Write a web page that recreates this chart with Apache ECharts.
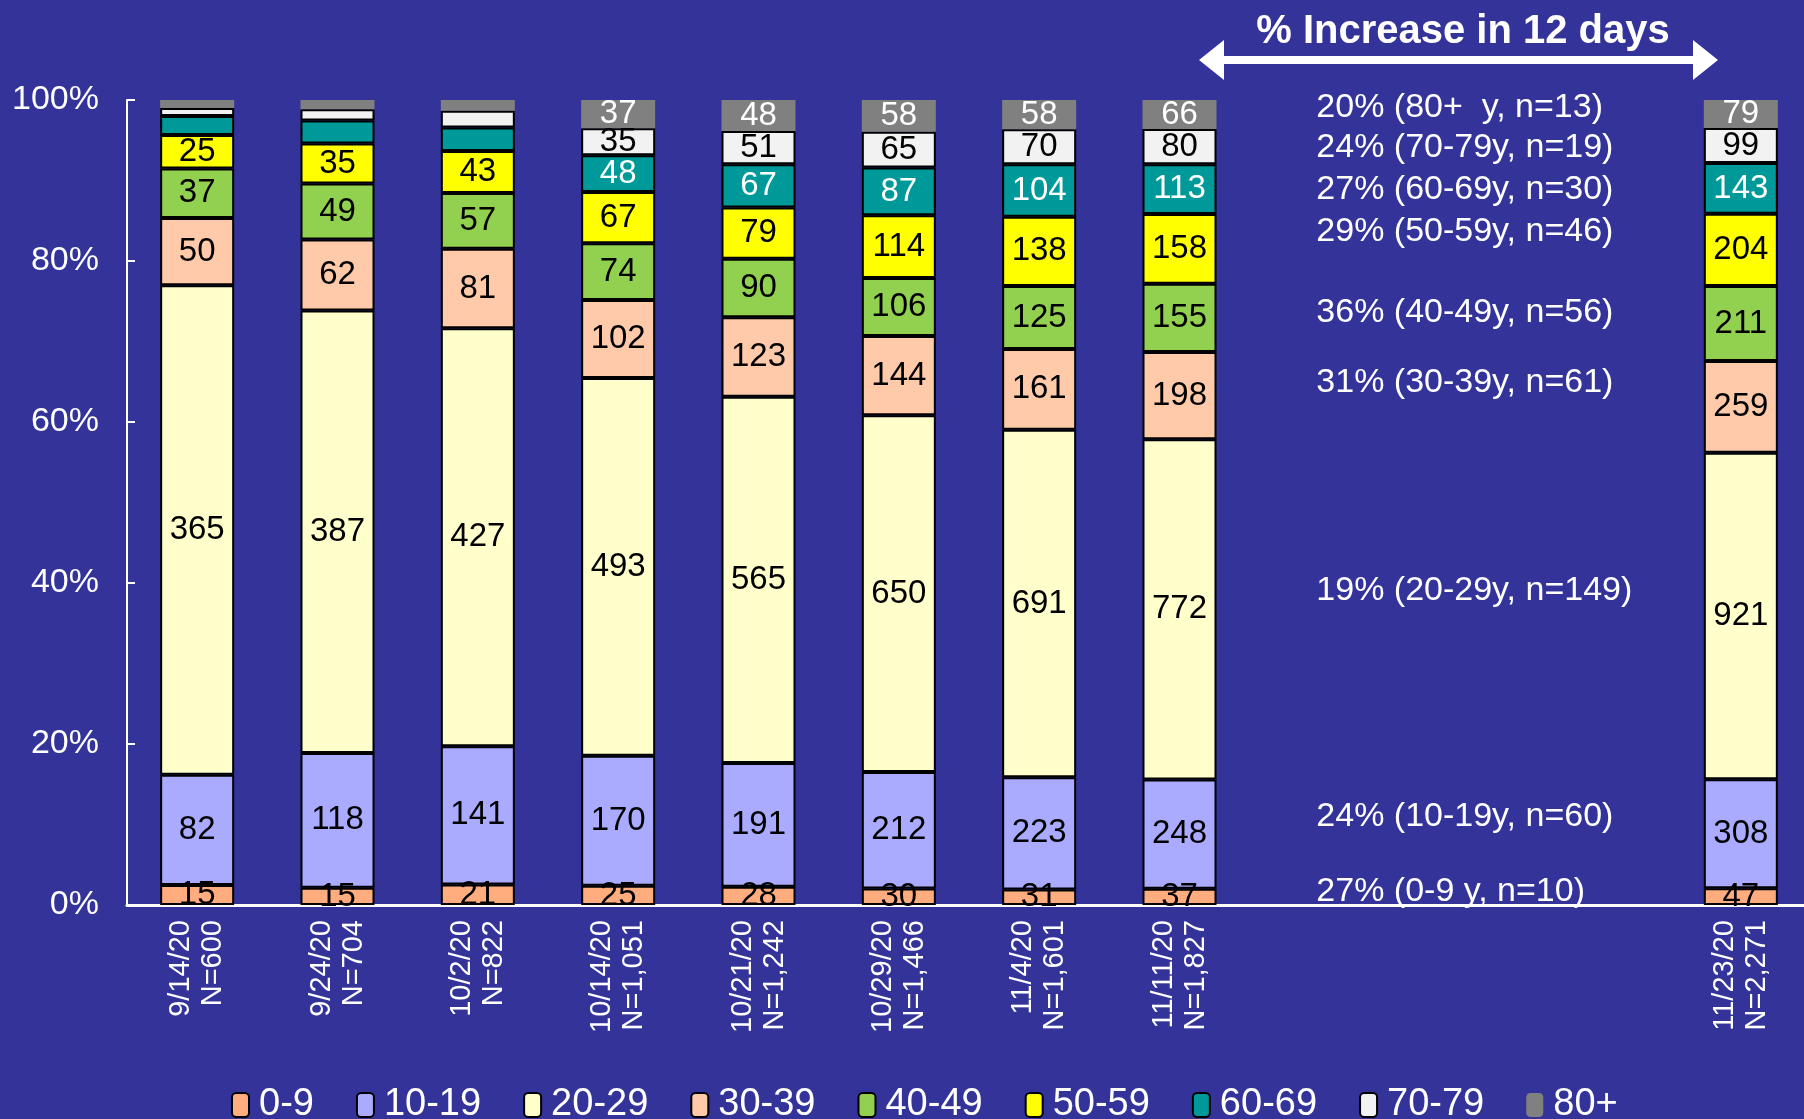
<!DOCTYPE html>
<html>
<head>
<meta charset="utf-8">
<script src="https://cdn.jsdelivr.net/npm/echarts@6/dist/echarts.min.js"></script>
<style>
  html, body { margin: 0; padding: 0; background: #333399; }
  #main { width: 1804px; height: 1119px; }
</style>
</head>
<body>
<div id="main"></div>
<script>
// 日期 / 样本数 (x 轴)
const dates = ['9/14/20', '9/24/20', '10/2/20', '10/14/20', '10/21/20', '10/29/20', '11/4/20', '11/11/20', 'gap1', 'gap2', 'gap3', '11/23/20']
const totals = [600, 704, 822, 1051, 1242, 1466, 1601, 1827, null, null, null, 2271]

// 各年龄组人数 (空位用 null)
const ageGroups = ['0-9', '10-19', '20-29', '30-39', '40-49', '50-59', '60-69', '70-79', '80+']
const age0 = [15, 15, 21, 25, 28, 30, 31, 37, null, null, null, 47]
const age10 = [82, 118, 141, 170, 191, 212, 223, 248, null, null, null, 308]
const age20 = [365, 387, 427, 493, 565, 650, 691, 772, null, null, null, 921]
const age30 = [50, 62, 81, 102, 123, 144, 161, 198, null, null, null, 259]
const age40 = [37, 49, 57, 74, 90, 106, 125, 155, null, null, null, 211]
const age50 = [25, 35, 43, 67, 79, 114, 138, 158, null, null, null, 204]
const age60 = [14, 20, 24, 48, 67, 87, 104, 113, null, null, null, 143]
const age70 = [6, 10, 17, 35, 51, 65, 70, 80, null, null, null, 99]
const age80 = [6, 8, 11, 37, 48, 58, 58, 66, null, null, null, 79]

const colors = ['#FFAD7F', '#AAAAFF', '#FFFFCC', '#FFCAAA', '#92D050', '#FFFF00', '#009999', '#F2F2F2', '#808080']
const labelColors = ['#000', '#000', '#000', '#000', '#000', '#000', '#fff', '#000', '#fff']

// 右侧注释: 12天增幅
const noteTexts = ['20% (80+  y, n=13)', '24% (70-79y, n=19)', '27% (60-69y, n=30)', '29% (50-59y, n=46)',
  '36% (40-49y, n=56)', '31% (30-39y, n=61)', '19% (20-29y, n=149)', '24% (10-19y, n=60)', '27% (0-9 y, n=10)']
const noteY = [99.1, 94.1, 88.9, 83.6, 73.6, 64.9, 39.1, 11.0, 1.7]

const counts = [age0, age10, age20, age30, age40, age50, age60, age70, age80]
const FONT = 'Liberation Sans, Arial, sans-serif'

var myChart = echarts.init(document.getElementById('main'))

const barSeries = ageGroups.map(function (name, k) {
  return {
    name: name,
    type: 'bar',
    stack: 'all',
    barWidth: 74,
    itemStyle: {
      color: colors[k],
      borderColor: '#000',
      borderWidth: k === 8 ? 0 : 2
    },
    label: {
      show: true,
      position: 'inside',
      color: labelColors[k],
      fontFamily: FONT,
      fontSize: 33,
      formatter: function (p) {
        const n = counts[k][p.dataIndex]
        // 太小的段不标数字 (0-9 除外)
        if (k > 0 && n / totals[p.dataIndex] < 0.03) return ''
        return n
      }
    },
    data: counts[k].map(function (n, i) {
      return n == null ? '-' : n / totals[i] * 100
    })
  }
})

const noteSeries = {
  type: 'scatter',
  symbolSize: 1,
  itemStyle: { color: '#333399', opacity: 1 },
  silent: true,
  z: 5,
  label: {
    show: true,
    position: 'right',
    distance: 0,
    offset: [-4, 0],
    color: '#ffffff',
    fontFamily: FONT,
    fontSize: 34,
    formatter: function (p) { return noteTexts[p.dataIndex] }
  },
  emphasis: { disabled: true },
  data: noteY.map(function (y) { return [8, y] })
}

const option = {
  backgroundColor: '#333399',
  animation: false,
  grid: { left: 127, width: 1684, top: 100, bottom: 214, outerBoundsMode: 'none' },
  legend: {
    data: ageGroups,
    left: 226,
    top: 1081,
    itemWidth: 17,
    itemHeight: 24,
    itemGap: 42,
    textStyle: { color: '#fff', fontFamily: FONT, fontSize: 38, padding: [0, 0, 0, 5] }
  },
  xAxis: {
    type: 'category',
    data: dates,
    axisLine: { lineStyle: { color: '#fff', width: 3 } },
    axisTick: { show: false },
    axisLabel: {
      interval: 0,
      rotate: 90,
      margin: 15,
      color: '#fff',
      fontFamily: FONT,
      fontSize: 29,
      lineHeight: 32,
      formatter: function (v, i) {
        if (totals[i] == null) return ''
        return v + '\nN=' + totals[i].toLocaleString('en-US')
      }
    }
  },
  yAxis: {
    type: 'value',
    min: 0,
    max: 100,
    interval: 20,
    splitLine: { show: false },
    axisLine: { show: true, lineStyle: { color: '#fff', width: 2 } },
    axisTick: { show: true, inside: true, length: 8, lineStyle: { color: '#fff', width: 2 } },
    axisLabel: { color: '#fff', fontFamily: FONT, fontSize: 34, margin: 28, formatter: '{value}%' }
  },
  graphic: [
    {
      type: 'polygon',
      shape: {
        points: [[1199, 60], [1224, 40], [1224, 56], [1693, 56], [1693, 40], [1718, 60],
          [1693, 80], [1693, 64], [1224, 64], [1224, 80]]
      },
      style: { fill: '#fff' }
    },
    {
      type: 'text',
      x: 1463,
      y: 32,
      style: {
        text: '% Increase in 12 days',
        fill: '#fff',
        font: 'bold 40px ' + FONT,
        textAlign: 'center',
        textVerticalAlign: 'middle'
      }
    }
  ],
  series: barSeries.concat([noteSeries])
}

myChart.setOption(option)
</script>
</body>
</html>
